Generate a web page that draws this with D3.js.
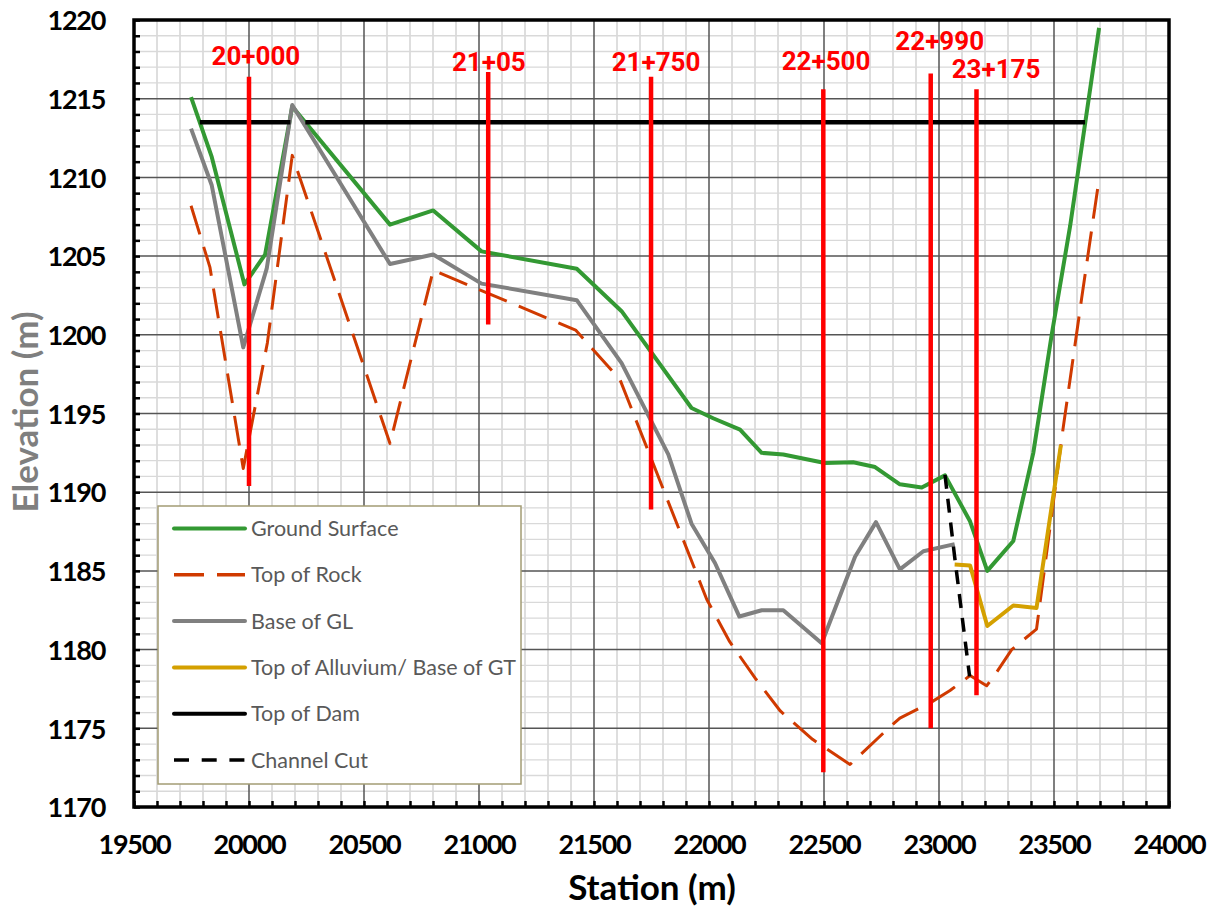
<!DOCTYPE html>
<html><head><meta charset="utf-8">
<script src="https://cdn.jsdelivr.net/npm/d3@7/dist/d3.min.js"></script>
<style>body{margin:0;background:#fff}svg{display:block}</style>
</head><body>
<svg id="chart" width="1210" height="907"></svg>
<script>
// ---------- data ----------
const xTickValues = [19500, 20000, 20500, 21000, 21500, 22000, 22500, 23000, 23500, 24000];
const yTickValues = [1170, 1175, 1180, 1185, 1190, 1195, 1200, 1205, 1210, 1215, 1220];

const groundStation = [19748, 19838, 19980, 20070, 20188, 20613, 20801, 21011, 21425, 21620, 21924, 22018, 22135, 22229, 22323, 22504, 22627, 22722, 22830, 22925, 23026, 23135, 23210, 23323, 23410, 23490, 23570, 23696];
const groundElev    = [1215.1, 1211.3, 1203.2, 1205.1, 1214.5, 1207.0, 1207.9, 1205.3, 1204.2, 1201.5, 1195.35, 1194.7, 1193.97, 1192.5, 1192.4, 1191.85, 1191.9, 1191.6, 1190.5, 1190.3, 1191.07, 1188.15, 1185.0, 1186.9, 1192.5, 1200.0, 1206.9, 1219.5];

const rockStation = [19748, 19830, 19975, 20080, 20188, 20613, 20801, 21420, 21613, 21990, 22090, 22200, 22310, 22450, 22613, 22780, 22830, 22960, 23048, 23135, 23207, 23243, 23316, 23424, 23540, 23620, 23693];
const rockElev    = [1208.2, 1204.3, 1191.5, 1199.5, 1211.4, 1193.1, 1204.1, 1200.3, 1197.15, 1183.2, 1180.5, 1178.2, 1176.1, 1174.3, 1172.7, 1175.0, 1175.65, 1176.6, 1177.4, 1178.35, 1177.7, 1178.4, 1180.0, 1181.3, 1194.1, 1202.3, 1209.6];

const glStation = [19748, 19838, 19975, 20077, 20188, 20613, 20801, 21011, 21425, 21620, 21823, 21924, 22026, 22132, 22229, 22323, 22490, 22635, 22726, 22830, 22932, 23068];
const glElev    = [1213.1, 1209.5, 1199.2, 1204.2, 1214.6, 1204.5, 1205.1, 1203.25, 1202.2, 1198.2, 1192.4, 1188.0, 1185.5, 1182.1, 1182.5, 1182.5, 1180.4, 1185.9, 1188.1, 1185.1, 1186.25, 1186.7];

const alluviumStation = [23068, 23135, 23210, 23323, 23424, 23530];
const alluviumElev    = [1185.4, 1185.35, 1181.5, 1182.8, 1182.65, 1193.0];

const damStation = [19786, 20180, 20212, 20245, 23635];
const damElev    = [1213.5, 1213.5, null, 1213.5, 1213.5];

const channelStation = [23026, 23068, 23133];
const channelElev    = [1191.1, 1185.9, 1178.3];

const markerLabels   = ["20+000", "21+05", "21+750", "22+500", "22+990", "23+175"];
const markerStation  = [20000, 21040, 21748, 22497, 22964, 23163];
const markerTop      = [1216.4, 1216.7, 1216.4, 1215.6, 1216.6, 1215.6];
const markerBottom   = [1190.4, 1200.65, 1188.9, 1172.2, 1175.0, 1177.1];
const markerLabelStation = [20030, 21043, 21770, 22509, 23003, 23248];
const markerLabelElev    = [1217.16, 1216.73, 1216.73, 1216.84, 1218.1, 1216.3];

const legendLabels = ["Ground Surface", "Top of Rock", "Base of GL", "Top of Alluvium/ Base of GT", "Top of Dam", "Channel Cut"];

// ---------- layout ----------
const svg = d3.select("#chart");
const L = 134, R = 1169, T = 20, B = 807;
const x = d3.scaleLinear().domain([19500, 24000]).range([L, R]);
const y = d3.scaleLinear().domain([1170, 1220]).range([B, T]);

const styles = {
  ground:   {color: "#339933", width: 4,   dash: null},
  rock:     {color: "#d03a00", width: 3,   dash: "30,13"},
  gl:       {color: "#808080", width: 4,   dash: null},
  alluvium: {color: "#d4a000", width: 4,   dash: null},
  dam:      {color: "#000000", width: 4.5, dash: null},
  channel:  {color: "#000000", width: 3.5, dash: "14,10"}
};

// ---------- grid ----------
const grid = svg.append("g");
const minorX = d3.range(19500, 24001, 100).filter(v => v % 500 !== 0);
const minorY = d3.range(1170, 1221, 1).filter(v => v % 5 !== 0);
grid.selectAll(".mx").data(minorX).enter().append("line")
  .attr("x1", d => x(d)).attr("x2", d => x(d)).attr("y1", T).attr("y2", B)
  .attr("stroke", "#bdbdbd").attr("stroke-width", 1);
grid.selectAll(".my").data(minorY).enter().append("line")
  .attr("x1", L).attr("x2", R).attr("y1", d => y(d)).attr("y2", d => y(d))
  .attr("stroke", "#d9d9d9").attr("stroke-width", 1.3);
grid.selectAll(".Mx").data(xTickValues).enter().append("line")
  .attr("x1", d => x(d)).attr("x2", d => x(d)).attr("y1", T).attr("y2", B)
  .attr("stroke", "#555").attr("stroke-width", 1.5);
grid.selectAll(".My").data(yTickValues).enter().append("line")
  .attr("x1", L).attr("x2", R).attr("y1", d => y(d)).attr("y2", d => y(d))
  .attr("stroke", "#555").attr("stroke-width", 1.5);

// ---------- axes ----------
const xAxis = d3.axisBottom(x).tickValues(d3.range(19500, 24001, 100)).tickSize(-6).tickFormat(d => xTickValues.includes(d) ? d : "");
const yAxis = d3.axisLeft(y).tickValues(d3.range(1170, 1221, 1)).tickSize(-6).tickFormat(d => yTickValues.includes(d) ? d : "");
const gx = svg.append("g").attr("transform", `translate(0,${B})`).call(xAxis);
const gy = svg.append("g").attr("transform", `translate(${L},0)`).call(yAxis);
[gx, gy].forEach(g => {
  g.select(".domain").remove();
  g.selectAll(".tick line").attr("stroke", "#000").attr("stroke-width", 2.5);
  g.selectAll(".tick text").attr("fill", "#000").attr("font-family", "Lato, sans-serif")
    .attr("font-weight", "bold").attr("font-size", 27).attr("letter-spacing", -1.3);
});
gx.selectAll(".tick text").attr("y", 0).attr("dy", 0).attr("transform", "translate(0,47)");
gy.selectAll(".tick text").attr("x", -29).attr("dy", "0.36em");

// ---------- series ----------
function series(st, el, s) {
  const data = st.map((d, i) => ({s: d, e: el[i]}));
  const line = d3.line().defined(d => d.e !== null).x(d => x(d.s)).y(d => y(d.e));
  svg.append("path").datum(data).attr("d", line)
    .attr("fill", "none").attr("stroke", s.color).attr("stroke-width", s.width)
    .attr("stroke-dasharray", s.dash).attr("stroke-linejoin", "round");
}
series(groundStation, groundElev, styles.ground);
series(rockStation, rockElev, styles.rock);
series(glStation, glElev, styles.gl);
series(alluviumStation, alluviumElev, styles.alluvium);
series(damStation, damElev, styles.dam);
series(channelStation, channelElev, styles.channel);

// ---------- station markers ----------
const markers = markerLabels.map((t, i) => ({t, s: markerStation[i], top: markerTop[i], bot: markerBottom[i], ls: markerLabelStation[i], le: markerLabelElev[i]}));
svg.selectAll(".mk").data(markers).enter().append("line")
  .attr("x1", d => x(d.s)).attr("x2", d => x(d.s)).attr("y1", d => y(d.top)).attr("y2", d => y(d.bot))
  .attr("stroke", "#ff0000").attr("stroke-width", 4.5);
svg.selectAll(".ml").data(markers).enter().append("text")
  .attr("x", d => x(d.ls)).attr("y", d => y(d.le)).attr("text-anchor", "middle")
  .attr("fill", "#ff0000").attr("font-family", "Roboto, sans-serif").attr("font-weight", "bold")
  .attr("font-size", 26).text(d => d.t);

// ---------- frame ----------
svg.append("rect").attr("x", L).attr("y", T).attr("width", R - L).attr("height", B - T)
  .attr("fill", "none").attr("stroke", "#000").attr("stroke-width", 3.5);

// ---------- axis titles ----------
svg.append("text").attr("x", 652).attr("y", 900).attr("text-anchor", "middle")
  .attr("font-family", "Lato, sans-serif").attr("font-weight", "bold").attr("font-size", 35)
  .attr("fill", "#000").text("Station (m)");
svg.append("text").attr("transform", "translate(38,412) rotate(-90)").attr("text-anchor", "middle")
  .attr("font-family", "Lato, sans-serif").attr("font-weight", "bold").attr("font-size", 35)
  .attr("fill", "#7f7f7f").text("Elevation (m)");

// ---------- legend ----------
const leg = svg.append("g");
leg.append("rect").attr("x", 158).attr("y", 506).attr("width", 363).attr("height", 278)
  .attr("fill", "#fff").attr("stroke", "#a39c74").attr("stroke-width", 1.5);
const legStyles = [styles.ground, styles.rock, styles.gl, styles.alluvium, styles.dam, styles.channel];
const legLegendDash = [null, "30,13", null, null, null, "15,12.7"];
legendLabels.forEach((lab, i) => {
  const yy = 528.5 + i * 46.3;
  const s = legStyles[i];
  leg.append("line").attr("x1", 174).attr("x2", 245).attr("y1", yy).attr("y2", yy)
    .attr("stroke", s.color).attr("stroke-width", s.dash ? 3.5 : 4)
    .attr("stroke-dasharray", legLegendDash[i]).attr("stroke-linecap", s.dash ? "butt" : "round");
  leg.append("text").attr("x", 251).attr("y", yy).attr("dy", "0.35em")
    .attr("font-family", "Lato, sans-serif").attr("font-size", 21.5).attr("fill", "#595959").text(lab);
});
</script>
</body></html>
